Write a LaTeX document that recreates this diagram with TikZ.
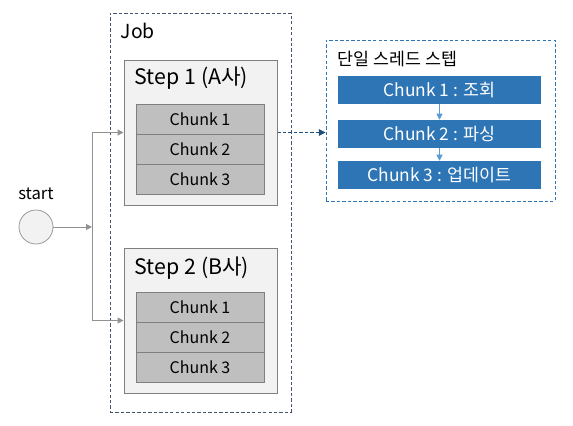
\documentclass[tikz,border=0pt]{standalone}
\usepackage{fontspec}
\setmainfont{Noto Sans CJK KR}
\usetikzlibrary{arrows.meta, positioning}

\definecolor{jobline}{HTML}{44546A}
\definecolor{stepfill}{HTML}{F2F2F2}
\definecolor{stepline}{HTML}{7F7F7F}
\definecolor{chunkfill}{HTML}{BFBFBF}
\definecolor{barblue}{HTML}{2E75B6}
\definecolor{lightblue}{HTML}{5B9BD5}
\definecolor{darkblue}{HTML}{1F4E79}

\def\px{0.75pt}

\tikzset{
    dashbox/.style={draw=#1, dash pattern=on 2.5pt off 1.6pt, line width=0.75pt, inner sep=0pt},
    stepbox/.style={draw=stepline, fill=stepfill, line width=0.75pt, inner sep=0pt,
        minimum width=153*\px, minimum height=145*\px},
    chunkbox/.style={draw=stepline, fill=chunkfill, line width=0.6pt, inner sep=0pt,
        minimum width=128*\px, minimum height=30*\px, font=\fontsize{12}{14}\selectfont},
    barbox/.style={fill=barblue, text=white, inner sep=0pt,
        minimum width=203*\px, minimum height=28*\px, font=\fontsize{13}{15}\selectfont},
    flow/.style={draw=stepline!85, line width=0.75pt},
    tip/.style={-{Triangle[length=4.5pt, width=4.5pt]}}
}

\begin{document}
\begin{tikzpicture}[x=0.75pt, y=-0.75pt]
    \useasboundingbox (0,0) rectangle (573,425);

    % 1. Job 상자
    \node[dashbox=jobline, minimum width=181*\px, minimum height=399*\px] (job) at (200.5,212.5) {};
    \node[anchor=west, font=\fontsize{14.5}{16}\selectfont] (jobtitle) at (116,31) {Job};

    % 2. Step 1 (A사)
    \node[stepbox] (step1) at (200.5,132.5) {};
    \node[anchor=west, font=\fontsize{16}{18}\selectfont] (step1title) at (130,78) {Step 1 (A사)};
    \foreach \i/\y in {1/119, 2/149.5, 3/179.5}
        \node[chunkbox] (a\i) at (200,\y) {Chunk \i};

    % 3. Step 2 (B사)
    \node[stepbox] (step2) at (200.5,320.5) {};
    \node[anchor=west, font=\fontsize{16}{18}\selectfont] (step2title) at (130,268) {Step 2 (B사)};
    \foreach \i/\y in {1/307, 2/337.5, 3/367.5}
        \node[chunkbox] (b\i) at (200,\y) {Chunk \i};

    % 4. start 원과 연결선
    \node[circle, draw=stepline!80, fill=stepfill, line width=0.6pt, minimum size=34*\px, inner sep=0pt] (start) at (36,227) {};
    \node[font=\fontsize{12.5}{14}\selectfont] (startlabel) at (36,194) {start};
    \coordinate (split) at (92,227);
    \draw[flow, tip] (start) -- (split);
    \draw[flow] (split |- step1.west) -- (split |- step2.west);
    \draw[flow, tip] (split |- step1.west) -- (step1.west);
    \draw[flow, tip] (split |- step2.west) -- (step2.west);

    % 5. 단일 스레드 스텝
    \node[dashbox=barblue, minimum width=229*\px, minimum height=161*\px] (single) at (440.5,120.5) {};
    \node[anchor=west, font=\fontsize{13}{15}\selectfont] (singletitle) at (333,59) {단일 스레드 스텝};
    \node[barbox] (c1) at (439.5,90) {Chunk 1 : 조회};
    \node[barbox] (c2) at (439.5,134) {Chunk 2 : 파싱};
    \node[barbox] (c3) at (439.5,175) {Chunk 3 : 업데이트};
    \draw[lightblue, line width=0.75pt, -{Triangle[length=4.5pt, width=4.5pt]}] (c1) -- (c2);
    \draw[lightblue, line width=0.75pt, -{Triangle[length=4.5pt, width=4.5pt]}] (c2) -- (c3);

    % 6. Step 1 -> 단일 스레드 스텝
    \draw[darkblue, dash pattern=on 2.5pt off 1.6pt, line width=0.75pt, -{Triangle[length=5pt, width=5pt]}]
        (step1.east) -- (step1.east -| single.west);
\end{tikzpicture}
\end{document}
